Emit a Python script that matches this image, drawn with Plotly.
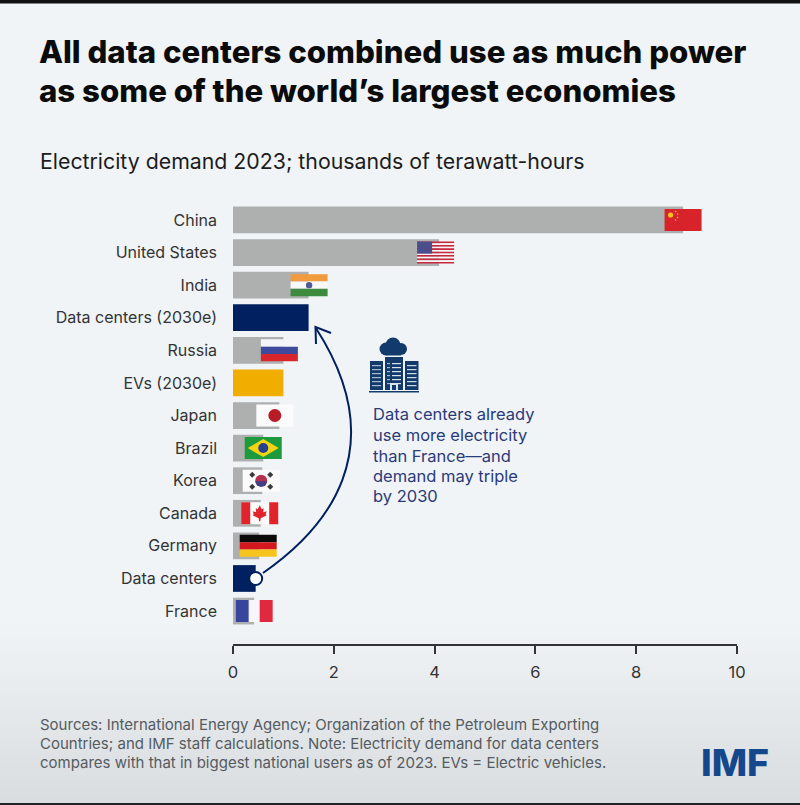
import plotly.graph_objects as go

COUNTRIES = ['China', 'United States', 'India', 'Data centers (2030e)', 'Russia', 'EVs (2030e)',
             'Japan', 'Brazil', 'Korea', 'Canada', 'Germany', 'Data centers', 'France']
DEMAND = [8.93, 4.09, 1.5, 1.5, 1.0, 1.0, 0.92, 0.6, 0.58, 0.55, 0.52, 0.45, 0.42]
BAR_KIND = ['country', 'country', 'country', 'dc', 'country', 'ev',
            'country', 'country', 'country', 'country', 'country', 'dc', 'country']
X_TICKS = [0, 2, 4, 6, 8, 10]

TITLE_LINES = ['All data centers combined use as much power', 'as some of the world\u2019s largest economies']
SUBTITLE = 'Electricity demand 2023; thousands of terawatt-hours'
CALLOUT = ['Data centers already', 'use more electricity', 'than France\u2014and', 'demand may triple', 'by 2030']
SOURCE = ['Sources: International Energy Agency; Organization of the Petroleum Exporting',
          'Countries; and IMF staff calculations. Note: Electricity demand for data centers',
          'compares with that in biggest national users as of 2023. EVs = Electric vehicles.']

W, H = 800, 805
NAVY = '#00205f'
KIND_COLORS = {'country': '#aeb0b0', 'dc': NAVY, 'ev': '#f2ae00'}

# plot box in pixels
LEFT, RIGHT, TOP, BOTTOM = 233, 737, 203, 644


# paper coordinates run over the plot box, not the whole figure
def px(x):
    return (x - LEFT) / (RIGHT - LEFT)


def py(y):
    return (BOTTOM - y) / (BOTTOM - TOP)


shapes = []


def rect(x0, y0, x1, y1, color, layer='above'):
    shapes.append(dict(type='rect', xref='paper', yref='paper', x0=px(x0), x1=px(x1), y0=py(y0), y1=py(y1),
                       fillcolor=color, line_width=0, layer=layer))


def circle(cx, cy, r, color, line=None):
    shapes.append(dict(type='circle', xref='paper', yref='paper', x0=px(cx - r), x1=px(cx + r),
                       y0=py(cy - r), y1=py(cy + r), fillcolor=color,
                       line=dict(color=line or color, width=1 if line else 0)))


def poly(points, color):
    d = 'M ' + ' L '.join(f'{px(a):.5f},{py(b):.5f}' for a, b in points) + ' Z'
    shapes.append(dict(type='path', xref='paper', yref='paper', path=d, fillcolor=color, line_width=0))


def stroke(points, color, width):
    d = 'M ' + ' L '.join(f'{px(a):.5f},{py(b):.5f}' for a, b in points)
    shapes.append(dict(type='path', xref='paper', yref='paper', path=d, line=dict(color=color, width=width)))


# background gradient
for y in range(620, H, 5):
    t = (y - 620) / 185
    c = [240 - 24 * t, 244 - 24 * t, 247 - 24 * t]
    rect(0, y, W, y + 5, f'rgb({c[0]:.0f},{c[1]:.0f},{c[2]:.0f})', layer='below')
rect(0, 0, W, 3.5, '#111111', layer='below')
rect(0, 803, W, 805, '#222222', layer='below')


# flags, drawn around the bar end
FW, FH = 37, 22


def flag(name, cx, cy):
    x0, y0 = cx - FW / 2, cy - FH / 2
    x1, y1 = x0 + FW, y0 + FH
    if name == 'China':
        rect(x0, y0, x1, y1, '#d8232a')
        circle(x0 + 6, y0 + 6, 2.6, '#f6c21c')
        for dx, dy in [(11, 2.5), (13, 5), (13, 8.5), (11, 11)]:
            circle(x0 + dx, y0 + dy, 0.8, '#f6c21c')
    elif name == 'United States':
        for i in range(13):
            rect(x0, y0 + i * FH / 13, x1, y0 + (i + 1) * FH / 13, '#c8283c' if i % 2 == 0 else '#f4f4f6')
        rect(x0, y0, x0 + 15, y0 + 12, '#4a4f8c')
    elif name == 'India':
        rect(x0, y0, x1, y0 + FH / 3, '#f29a3e')
        rect(x0, y0 + FH / 3, x1, y0 + 2 * FH / 3, '#f7f8fa')
        rect(x0, y0 + 2 * FH / 3, x1, y1, '#3d8b3f')
        circle(cx, cy, 3.2, '#4f5a96')
    elif name == 'Russia':
        rect(x0, y0, x1, y0 + FH / 3, '#f3f5f8')
        rect(x0, y0 + FH / 3, x1, y0 + 2 * FH / 3, '#3f4a9c')
        rect(x0, y0 + 2 * FH / 3, x1, y1, '#d8262c')
    elif name == 'Japan':
        rect(x0, y0, x1, y1, '#fbfbfc')
        circle(cx, cy, 6.5, '#b71c26')
    elif name == 'Brazil':
        rect(x0, y0, x1, y1, '#1d9a3c')
        poly([(x0 + 3, cy), (cx, y0 + 2), (x1 - 3, cy), (cx, y1 - 2)], '#f4d312')
        circle(cx, cy, 5, '#27408f')
    elif name == 'Korea':
        rect(x0, y0, x1, y1, '#fbfbfc')
        circle(cx, cy, 6, '#b5304f')
        poly([(cx - 6, cy + 0.5), (cx + 6, cy + 0.5), (cx + 4, cy + 5), (cx, cy + 6.2), (cx - 4, cy + 5)], '#3f3f86')
        for dx, dy in [(-9, -6), (9, -6), (-9, 6), (9, 6)]:
            poly([(cx + dx - 3, cy + dy), (cx + dx, cy + dy - 3), (cx + dx + 3, cy + dy), (cx + dx, cy + dy + 3)], '#3c3c3c')
    elif name == 'Canada':
        rect(x0, y0, x1, y1, '#fbfbfc')
        rect(x0, y0, x0 + 9, y1, '#e2232b')
        rect(x1 - 9, y0, x1, y1, '#e2232b')
        poly([(cx, cy - 8), (cx + 2, cy - 4), (cx + 4, cy - 5), (cx + 3.5, cy - 1), (cx + 7, cy - 2), (cx + 6, cy + 1),
              (cx + 7, cy + 2), (cx + 1, cy + 5), (cx + 0.6, cy + 8), (cx - 0.6, cy + 8), (cx - 1, cy + 5),
              (cx - 7, cy + 2), (cx - 6, cy + 1), (cx - 7, cy - 2), (cx - 3.5, cy - 1), (cx - 4, cy - 5), (cx - 2, cy - 4)],
             '#e2232b')
    elif name == 'Germany':
        rect(x0, y0, x1, y0 + FH / 3, '#0a0a0a')
        rect(x0, y0 + FH / 3, x1, y0 + 2 * FH / 3, '#d3181f')
        rect(x0, y0 + 2 * FH / 3, x1, y1, '#f6c41c')
    elif name == 'France':
        rect(x0, y0, x1, y1, '#f6f6fa')
        rect(x0, y0, x0 + 13, y1, '#38459c')
        rect(x1 - 13, y0, x1, y1, '#e0283f')


# flag centre along the x axis, in thousands of TWh
FLAG_CENTER = {'China': 8.93, 'United States': 4.02, 'India': 1.51, 'Russia': 0.92, 'Japan': 0.83,
               'Brazil': 0.6, 'Korea': 0.56, 'Canada': 0.53, 'Germany': 0.5, 'France': 0.42}
row_px = (611 - 220) / 12
for name, val in FLAG_CENTER.items():
    row = COUNTRIES.index(name)
    flag(name, LEFT + val * (RIGHT - LEFT) / 10, 220 + row * row_px)

# arrow from the data centers bar to the 2030 bar
curve = f'M {px(263):.5f},{py(573):.5f} C {px(325):.5f},{py(530):.5f} {px(395):.5f},{py(450):.5f} {px(315.5):.5f},{py(327.5):.5f}'
shapes.append(dict(type='path', xref='paper', yref='paper', path=curve, line=dict(color=NAVY, width=2)))
stroke([(331, 333), (315.5, 327), (316, 344)], NAVY, 2)

# building icon
ICON = '#123a6b'
circle(386, 349, 6.5, ICON)
circle(393, 345, 7.5, ICON)
circle(401, 349, 6, ICON)
rect(386, 348, 401, 355.5, ICON)
rect(370, 361, 383, 390, ICON)
rect(385, 357, 403, 390, ICON)
rect(405, 361, 418.5, 390, ICON)
rect(369, 391, 419, 392.5, ICON)
for i in range(6):
    y = 365 + i * 4
    rect(372, y, 381, y + 1.2, '#a8bcd0')
    rect(407, y, 416.5, y + 1.2, '#cfdbe6')
    rect(392, y - 2, 401, y - 0.8, '#dbe4ec')
    rect(387, y - 2, 390, y - 0.8, '#a8bcd0')
rect(390, 383, 398, 390, '#dbe4ec')
rect(392, 385, 396, 390, ICON)

annotations = []


def text(x, y, s, size, color, weight=400, family='Inter', anchor='left'):
    annotations.append(dict(xref='paper', yref='paper', x=px(x), y=py(y), text=s, showarrow=False,
                            xanchor=anchor, yanchor='middle', align=anchor,
                            font=dict(family=family, size=size, color=color, weight=weight)))


for s, y in zip(TITLE_LINES, [52, 91]):
    text(37, y, s, 31.2, '#0b0b0b', weight=800)
text(38, 161, SUBTITLE, 21.3, '#1c1c1c', weight=400)
for s, y in zip(CALLOUT, [414, 435, 455.5, 476, 496]):
    text(371, y, s, 16.5, '#2b3a78')
for s, y in zip(SOURCE, [724, 743, 762]):
    text(38, y, s, 15, '#555b60')
text(699, 762, 'IMF', 37.5, '#14478c', weight=800)

fig = go.Figure()
fig.add_trace(go.Bar(y=list(range(len(COUNTRIES))), x=DEMAND, orientation='h', width=0.82,
                     marker=dict(color=[KIND_COLORS[k] for k in BAR_KIND], line_width=0), showlegend=False))
dc_row = COUNTRIES.index('Data centers')
fig.add_trace(go.Scatter(x=[DEMAND[dc_row]], y=[dc_row], mode='markers', showlegend=False,
                         marker=dict(size=13, color='white', line=dict(color=NAVY, width=2))))

fig.update_layout(
    width=W, height=H,
    margin=dict(l=LEFT, r=W - RIGHT, t=TOP, b=H - BOTTOM, pad=0),
    paper_bgcolor='#f0f4f7', plot_bgcolor='rgba(0,0,0,0)',
    shapes=shapes, annotations=annotations,
    font=dict(family='Inter'),
    xaxis=dict(range=[0, 10], tickvals=X_TICKS, showgrid=False, zeroline=False, showline=True,
               linecolor='#333333', linewidth=1.5, ticks='outside', ticklen=8, tickwidth=1.5, tickcolor='#333333',
               ticklabelstandoff=4, tickfont=dict(size=16.5, color='#333333')),
    yaxis=dict(range=[13.01, -0.52], tickvals=list(range(len(COUNTRIES))), ticktext=COUNTRIES, showgrid=False,
               zeroline=False, showline=False, ticks='', ticklabelstandoff=15,
               tickfont=dict(size=16, color='#333333')),
)

fig.write_html('out.html', config=dict(displayModeBar=False),
               post_script="document.body.style.margin='0';document.body.style.overflow='hidden';")
